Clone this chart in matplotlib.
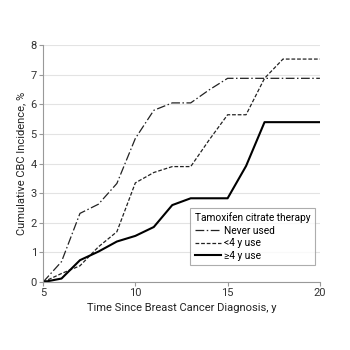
import matplotlib
matplotlib.use("Agg")
import matplotlib.pyplot as plt

plt.rcParams['font.family'] = ['Roboto', 'DejaVu Sans']

years = [5, 6, 7, 8, 9, 10, 11, 12, 13, 14, 15, 16, 17, 18, 19, 20]
never_used = [0, 0.69, 2.32, 2.63, 3.33, 4.85, 5.8, 6.05, 6.05, 6.49, 6.88, 6.88, 6.88, 6.88, 6.88, 6.88]
lt4_use = [0, 0.29, 0.55, 1.19, 1.7, 3.35, 3.7, 3.9, 3.9, 4.8, 5.65, 5.65, 6.88, 7.53, 7.53, 7.53]
ge4_use = [0, 0.12, 0.74, 1.03, 1.37, 1.56, 1.86, 2.6, 2.83, 2.83, 2.83, 3.92, 5.4, 5.4, 5.4, 5.4]

fig = plt.figure(figsize=(3.5, 3.5), dpi=100)
ax = fig.add_axes([0.123, 0.194, 0.791, 0.677])

ax.plot(years, never_used, color='#222222', lw=0.9, linestyle=(0, (7, 2, 1.2, 2)), label='Never used')
ax.plot(years, lt4_use, color='#222222', lw=0.9, linestyle=(0, (3, 1.5)), label='<4 y use')
ax.plot(years, ge4_use, color='black', lw=1.5, label='≥4 y use')

ax.set_xlim(5, 20)
ax.set_ylim(0, 8)
ax.set_xticks([5, 10, 15, 20])
ax.set_yticks(range(0, 9))
ax.grid(axis='y', color='#e3e3e3', lw=0.8)
ax.set_axisbelow(True)
for s in ['top', 'right']:
    ax.spines[s].set_visible(False)
for s in ['left', 'bottom']:
    ax.spines[s].set_color('#999999')
    ax.spines[s].set_linewidth(0.8)
ax.tick_params(colors='#999999', labelcolor='#333333', labelsize=8, length=3, width=0.8, pad=1.5)

ax.set_xlabel('Time Since Breast Cancer Diagnosis, y', fontsize=8, color='#222222', labelpad=3)
ax.set_ylabel('Cumulative CBC Incidence, %', fontsize=8, color='#222222', labelpad=3)

leg = ax.legend(title='Tamoxifen citrate therapy', loc='lower right', bbox_to_anchor=(1.0, 0.05),
                fontsize=7.3, title_fontsize=7.3, frameon=True, fancybox=False,
                handlelength=2.6, handletextpad=0.3, borderpad=0.45, labelspacing=0.25)
leg._legend_box.align = 'left'
leg.get_frame().set_edgecolor('#999999')
leg.get_frame().set_linewidth(0.8)

fig.savefig('out.png', dpi=100)
